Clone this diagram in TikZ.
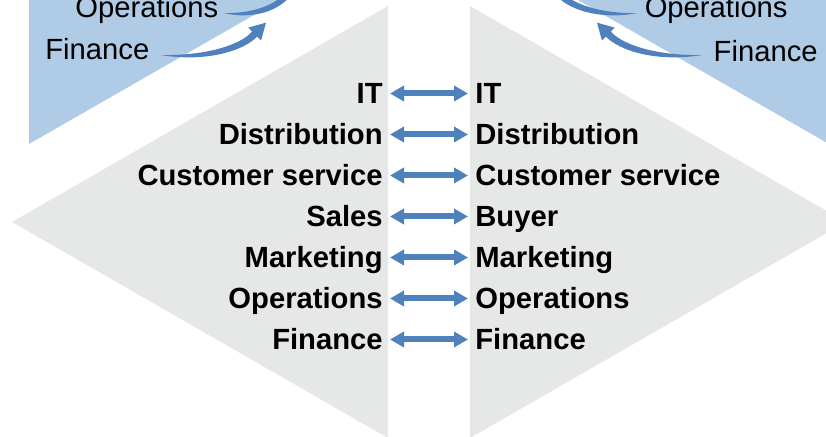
\documentclass[tikz,border=0pt]{standalone}
\usepackage{fontspec}
\setmainfont{Liberation Sans}
\usepackage{tikz}
\usetikzlibrary{calc}
\usetikzlibrary{arrows.meta}
\definecolor{arrowblue}{HTML}{4F81BD}
\definecolor{paleblue}{HTML}{B0CBE5}
\definecolor{panelgray}{HTML}{E6E7E7}

\tikzset{
  dept/.style={font=\fontsize{14.6}{17}\selectfont\bfseries, inner sep=0pt,
    text height=10.5pt, text depth=0pt},
  toplabel/.style={font=\fontsize{14.6}{17}\selectfont, inner sep=0pt,
    text height=10.5pt, text depth=0pt},
  link/.style={draw=arrowblue, line width=3pt,
    {Triangle[length=7pt,width=7.5pt]}-{Triangle[length=7pt,width=7.5pt]},
    shorten <=3.5pt, shorten >=3.5pt}
}

% tapered curved arrow, tail at the origin
\newcommand{\taperarrow}{%
  \fill[arrowblue] (0,0) .. controls (45,7.5) and (83,-4) .. (96.5,-18.5)
    -- (100.4,-14.6) -- (105.3,-32.3) -- (87.6,-27.4) -- (91.5,-23.5)
    .. controls (80,-10) and (45,1) .. (0,0) -- cycle;}

\begin{document}
\begin{tikzpicture}[x=0.5pt, y=-0.5pt]

  \useasboundingbox (0,0) rectangle (826,437);
  \clip (0,0) rectangle (826,437);

  % Background shapes
  \fill[paleblue] (29,-20) -- (29,144) -- (315,-20) -- cycle;
  \fill[paleblue] (829,-20) -- (829,144) -- (543,-20) -- cycle;
  \fill[panelgray] (388,6) -- (12,222) -- (388,438) -- cycle;
  \fill[panelgray] (470,6) -- (846,222) -- (470,438) -- cycle;

  % Top labels
  \node[toplabel, anchor=base west] (opsL) at (75,18) {Operations};
  \node[toplabel, anchor=base west] (finL) at (45,60) {Finance};
  \node[toplabel, anchor=base east] (opsR) at (788,18) {Operations};
  \node[toplabel, anchor=base east] (finR) at (818,62) {Finance};

  % Curved arrows
  \begin{scope}[shift={($(finL.east)+(11,5.5)$)}]
    \taperarrow
  \end{scope}
  \begin{scope}[shift={($(opsL.east)+(5,5.5)$)}, xscale=0.7]
    \taperarrow
  \end{scope}
  \begin{scope}[shift={($(finR.west)+(-11,3.5)$)}, xscale=-1]
    \taperarrow
  \end{scope}
  \begin{scope}[shift={($(opsR.west)+(-7,5.5)$)}, xscale=-0.85]
    \taperarrow
  \end{scope}

  % Matching departments
  \foreach \l/\r [count=\i] in {IT/IT, Distribution/Distribution,
      Customer service/Customer service, Sales/Buyer, Marketing/Marketing,
      Operations/Operations, Finance/Finance} {
    \node[dept, anchor=base east] (L\i) at (383,{63+41*\i}) {\l};
    \node[dept, anchor=base west] (R\i) at (475,{63+41*\i}) {\r};
    \draw[link] (L\i.east) -- (R\i.west);
  }

\end{tikzpicture}
\end{document}
